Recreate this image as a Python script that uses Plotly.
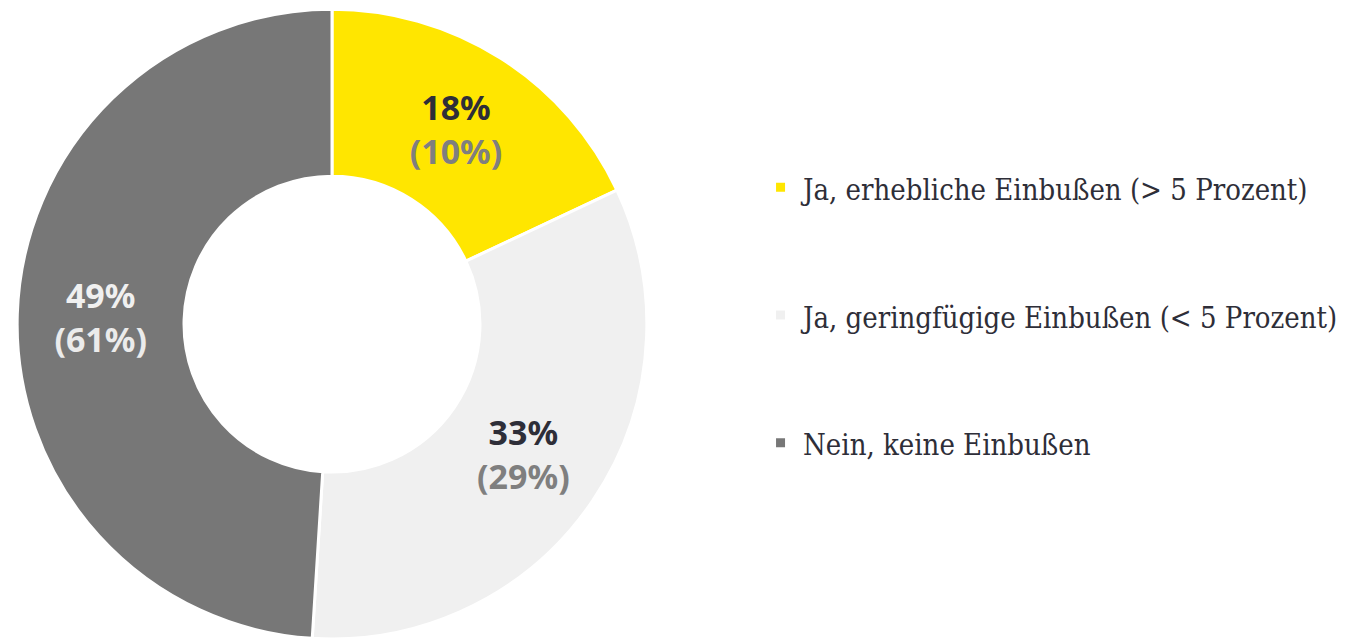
import plotly.graph_objects as go

labels = [
    "Ja, erhebliche Einbußen (> 5 Prozent)",
    "Ja, geringfügige Einbußen (< 5 Prozent)",
    "Nein, keine Einbußen",
]
values_current = [18, 33, 49]
values_previous = [10, 29, 61]

slice_colors = ["#FFE600", "#F0F0F0", "#777777"]
main_text_colors = ["#2E2E38", "#2E2E38", "#F0F0F0"]
sub_text_colors = ["#7F7F7F", "#7F7F7F", "#EBEBEB"]

legend_labels = [
    "<br><span style='font-size:29px'>" + l + "</span><br> " for l in labels
]

custom = [[p, c] for p, c in zip(values_previous, sub_text_colors)]

fig = go.Figure(
    go.Pie(
        labels=legend_labels,
        values=values_current,
        customdata=custom,
        hole=0.47,
        sort=False,
        direction="clockwise",
        rotation=0,
        marker=dict(colors=slice_colors, line=dict(color="white", width=3)),
        texttemplate="<b>%{value}%</b><br><span style='color:%{customdata[1]}'><b>(%{customdata[0]}%)</b></span>",
        textposition="inside",
        insidetextorientation="horizontal",
        textfont=dict(family="Noto Sans", size=34, color=main_text_colors),
        domain=dict(x=[8 / 1349, 640 / 1349], y=[0.011, 0.998]),
        hoverinfo="skip",
    )
)

fig.update_layout(
    width=1349,
    height=638,
    margin=dict(l=0, r=0, t=0, b=0),
    paper_bgcolor="white",
    plot_bgcolor="white",
    showlegend=True,
    legend=dict(
        x=0.556,
        xanchor="left",
        y=0.827,
        yanchor="top",
        itemwidth=35,
        font=dict(family="DejaVu Serif Condensed, Liberation Serif, serif", size=32, color="#2E2E38"),
        itemclick=False,
        itemdoubleclick=False,
    ),
)

fig.write_html("out.html")
